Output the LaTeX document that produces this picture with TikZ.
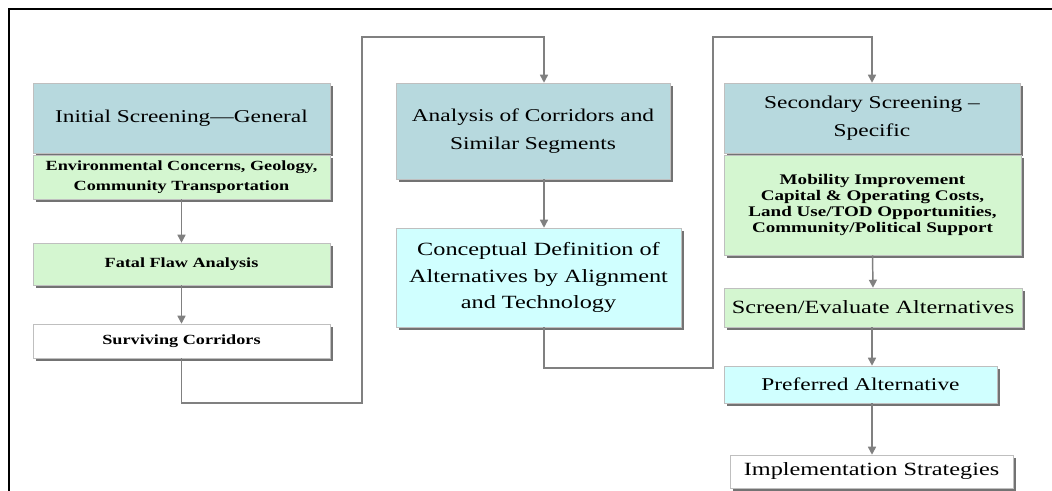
\documentclass[tikz,border=0pt]{standalone}
\usepackage{fontspec}
\setmainfont[FakeStretch=1.3]{Liberation Serif}
\usetikzlibrary{arrows.meta,shadows}
\definecolor{headblue}{RGB}{183,217,222}
\definecolor{critgreen}{RGB}{212,246,208}
\definecolor{resultcyan}{RGB}{208,255,255}
\definecolor{linkgray}{RGB}{128,128,128}
\begin{document}
\begin{tikzpicture}[x=0.75pt,y=-0.75pt,
  box/.style={rectangle, draw=black!25, line width=0.4pt, inner sep=0pt, align=center,
    drop shadow={shadow xshift=2.25pt, shadow yshift=-2.25pt, fill=black!55, opacity=1}},
  headbox/.style={box, fill=headblue, font=\fontsize{13.5}{21}\selectfont},
  critbox/.style={box, fill=critgreen, font=\bfseries\fontsize{10.5}{14.5}\selectfont},
  resultbox/.style={box, fill=resultcyan, font=\fontsize{13.5}{20}\selectfont},
  plainbox/.style={box, fill=white},
  link/.style={linkgray, line width=1.1pt, -{Triangle[width=6pt,length=6pt]}}]
\useasboundingbox (0,0) rectangle (1052,491);
\draw[line width=1.5pt] (9,491) -- (9,9) -- (1052,9);
% left column
\node[headbox, minimum width=222.75pt, minimum height=52.5pt] (init) at (181.5,118) {Initial Screening—General};
\node[critbox, minimum width=222.75pt, minimum height=33pt] (env) at (181.5,177) {Environmental Concerns, Geology,\\ Community Transportation};
\node[critbox, minimum width=222.75pt, minimum height=31.5pt] (fatal) at (181.5,264) {Fatal Flaw Analysis};
\node[plainbox, font=\bfseries\fontsize{10.5}{14}\selectfont, minimum width=222.75pt, minimum height=25.5pt] (surv) at (181.5,341) {Surviving Corridors};
\draw[link] (env.south) -- (fatal.north);
\draw[link] (fatal.south) -- (surv.north);
% middle column
\node[headbox, minimum width=205.5pt, minimum height=72pt] (anal) at (533,131) {Analysis of Corridors and\\ Similar Segments};
\node[resultbox, font=\fontsize{14}{20}\selectfont, minimum width=213.75pt, minimum height=74.25pt] (concept) at (538.5,277.5) {Conceptual Definition of\\ Alternatives by Alignment\\ and Technology};
\coordinate (lowA) at (362,403);
\coordinate (topA) at (362,37);
\coordinate (dropA) at (544,37);
\draw[link] (surv.south) |- (lowA) -- (topA) -| (anal.north -| dropA);
\draw[link] (anal.south -| dropA) -- (concept.north -| dropA);
% right column
\node[headbox, minimum width=222pt, minimum height=52.5pt] (second) at (872,118) {Secondary Screening –\\ Specific};
\node[critbox, font=\bfseries\fontsize{11}{12}\selectfont, minimum width=222.75pt, minimum height=75pt] (mob) at (872.5,205) {Mobility Improvement\\ Capital \& Operating Costs,\\ Land Use/TOD Opportunities,\\ Community/Political Support};
\node[critbox, font=\fontsize{14}{18}\selectfont, minimum width=223.5pt, minimum height=29.25pt] (screen) at (873,307.5) {Screen/Evaluate Alternatives};
\node[resultbox, minimum width=204.75pt, minimum height=27.75pt] (pref) at (860.5,384.5) {Preferred Alternative};
\node[plainbox, font=\fontsize{14}{18}\selectfont, minimum width=212.25pt, minimum height=24.75pt] (impl) at (871.5,471.5) {Implementation Strategies};
\coordinate (lowB) at (713,368);
\coordinate (topB) at (713,37);
\draw[link] (concept.south -| dropA) |- (lowB) -- (topB) -| (second.north);
\draw[link] (mob.south) -- (screen.north);
\draw[link] (screen.south -| second.south) -- (pref.north -| second.south);
\draw[link] (pref.south -| second.south) -- (impl.north -| second.south);
\end{tikzpicture}
\end{document}
